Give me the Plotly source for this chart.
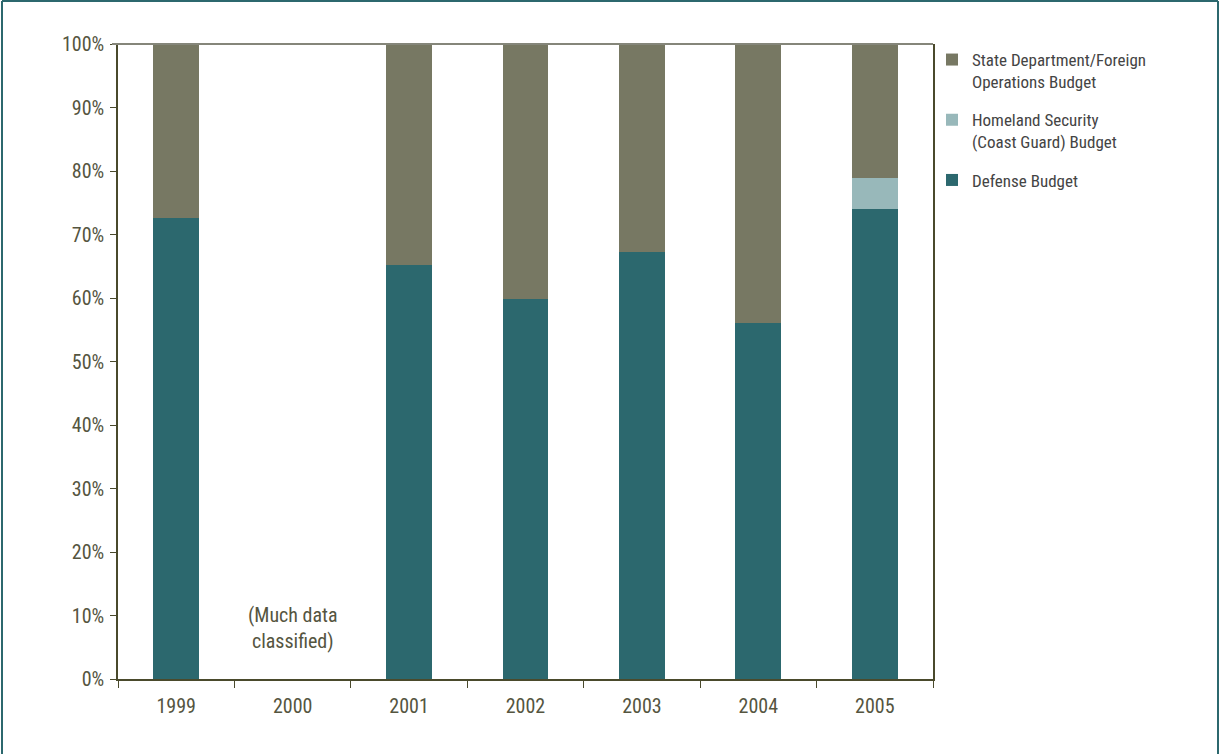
import plotly.graph_objects as go

years = ["1999", "2000", "2001", "2002", "2003", "2004", "2005"]
defense = [72.6, None, 65.2, 59.8, 67.2, 56.1, 74.0]
homeland = [None, None, None, None, None, None, 4.9]
state = [27.4, None, 34.8, 40.2, 32.8, 43.9, 21.1]
y_ticks = [0, 10, 20, 30, 40, 50, 60, 70, 80, 90, 100]
note = "(Much data<br>classified)"
note_year = "2000"
note_y = 8.0

TEXT = "#55553f"
AXIS = "#4a4a2c"
FONT = "Roboto Condensed"
WEIGHT = 400

xpos = list(range(len(years)))
bounds = [i - 0.5 for i in range(len(years) + 1)]

fig = go.Figure()
fig.add_trace(go.Bar(x=xpos, y=defense, name="Defense Budget", legendgroup="d", legendrank=3,
                     marker_color="#2c686e", marker_line_width=0))
fig.add_trace(go.Bar(x=xpos, y=homeland, name="Homeland Security<br>(Coast Guard) Budget", legendgroup="h",
                     legendrank=2, marker_color="#98b8ba", marker_line_width=0))
fig.add_trace(go.Bar(x=xpos, y=state, name="State Department/Foreign<br>Operations Budget", legendgroup="s",
                     legendrank=1, marker_color="#777863", marker_line_width=0))

W, H = 1220, 754
L, R, T, B = 118, 287, 44, 75
pw, ph = W - L - R, H - T - B

fig.update_layout(
    width=W, height=H,
    barmode="stack", bargap=0.605,
    margin=dict(l=L, r=R, t=T, b=B, autoexpand=False),
    plot_bgcolor="white", paper_bgcolor="white",
    font=dict(family=FONT, color=TEXT, size=20, weight=WEIGHT),
    showlegend=True,
    legend=dict(
        x=1 + (932 - 933) / pw, y=1 + 2 / ph, xanchor="left", yanchor="top",
        traceorder="grouped", font=dict(size=17, color="#444444", weight=WEIGHT), valign="top",
        tracegroupgap=13, bgcolor="rgba(0,0,0,0)",
    ),
    xaxis=dict(
        range=[bounds[0], bounds[-1]], tickvals=xpos, ticktext=years, ticks="",
        showline=True, linecolor=AXIS, linewidth=1.5, showgrid=False, zeroline=False,
        tickfont=dict(size=20, color=TEXT, weight=WEIGHT), ticklabelstandoff=8,
        minor=dict(tickvals=bounds, ticks="outside", ticklen=7, tickcolor=AXIS, showgrid=False),
    ),
    yaxis=dict(
        range=[0, 100], tickvals=y_ticks, ticktext=[f"{v}%" for v in y_ticks],
        ticks="outside", ticklen=6, tickcolor=AXIS, showline=True, linecolor=AXIS, linewidth=1.5,
        mirror=True, showgrid=False, zeroline=False, tickfont=dict(size=20, color=TEXT, weight=WEIGHT),
        ticklabelstandoff=2,
    ),
    annotations=[dict(
        x=years.index(note_year), y=note_y, xref="x", yref="y", text=note, showarrow=False,
        font=dict(size=20, color=TEXT, weight=WEIGHT),
    )],
    shapes=[
        dict(type="line", xref="paper", yref="paper", x0=-6 / pw, x1=1, y0=1, y1=1,
             line=dict(color="#85867a", width=2)),
        dict(type="line", xref="paper", yref="paper", x0=-(L - 2) / pw, x1=-(L - 2) / pw,
             y0=-(B + 5) / ph, y1=1 + (T - 1) / ph, line=dict(color="#2c686e", width=2)),
        dict(type="line", xref="paper", yref="paper", x0=-(L - 2) / pw, x1=(1218 - L) / pw,
             y0=1 + (T - 1) / ph, y1=1 + (T - 1) / ph, line=dict(color="#2c686e", width=2)),
        dict(type="line", xref="paper", yref="paper", x0=(1218 - L) / pw, x1=(1218 - L) / pw,
             y0=-(B + 5) / ph, y1=1 + (T - 1) / ph, line=dict(color="#2c686e", width=2)),
    ],
)

fig.write_html("out.html", config={"displayModeBar": False},
               post_script="document.body.style.margin='0';")
